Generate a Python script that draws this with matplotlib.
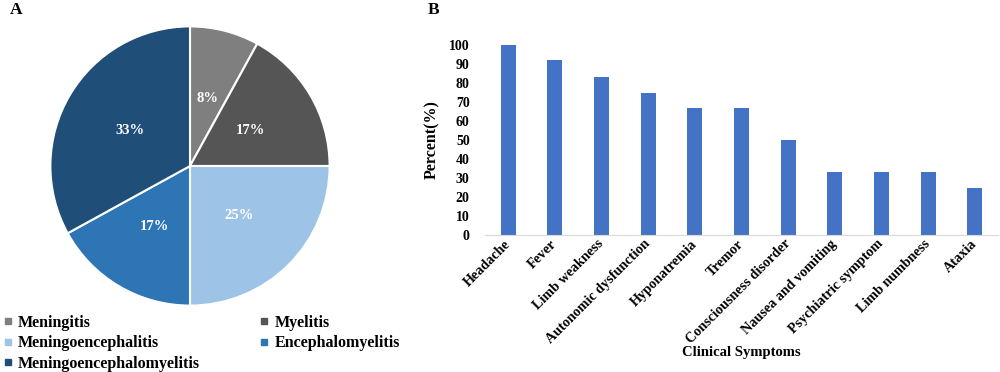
import matplotlib
matplotlib.use("Agg")
import matplotlib.pyplot as plt
from matplotlib.lines import Line2D

plt.rcParams.update({
    "font.family": "serif",
    "font.serif": ["Liberation Serif", "DejaVu Serif"],
    "font.weight": "bold",
})

# panel A: disease type distribution
TYPES = ["Meningitis", "Myelitis", "Meningoencephalitis",
         "Encephalomyelitis", "Meningoencephalomyelitis"]
TYPE_PCT = [8, 17, 25, 17, 33]
TYPE_COLORS = ["#7f7f7f", "#555555", "#9dc3e6", "#2e75b6", "#1f4e79"]

# panel B: clinical symptoms
SYMPTOMS = ["Headache", "Fever", "Limb weakness", "Autonomic dysfunction",
            "Hyponatremia", "Tremor", "Consciousness disorder",
            "Nausea and vomiting", "Psychiatric symptom", "Limb numbness",
            "Ataxia"]
SYMPTOM_PCT = [100, 92, 83, 75, 67, 67, 50, 33, 33, 33, 25]

W, H = 1000, 372
fig = plt.figure(figsize=(W / 100, H / 100), dpi=100)

# --- A: pie ---
axA = fig.add_axes([49 / W, (H - 307) / H, 282 / W, 282 / H])
wedges, _, autotexts = axA.pie(
    TYPE_PCT, colors=TYPE_COLORS, startangle=90, counterclock=False,
    autopct=lambda p: f"{p:.0f}%", pctdistance=0.5,
    wedgeprops=dict(edgecolor="white", linewidth=1.5),
    textprops=dict(color="white", fontsize=10.5, fontweight="bold"))
axA.set_xlim(-1.01, 1.01)
axA.set_ylim(-1.01, 1.01)
axA.set_aspect("equal")

handles = [Line2D([], [], marker="s", linestyle="none", markersize=5,
                  color=c) for c in TYPE_COLORS]
# column-major fill -> reorder so rows read Meningitis/Myelitis, ...
order = [0, 2, 4, 1, 3]
fig.legend([handles[i] for i in order], [TYPES[i] for i in order],
           loc="upper left", bbox_to_anchor=(3 / W, 1 - 315 / H),
           ncol=2, frameon=False, fontsize=11.5, handlelength=0.6,
           handletextpad=0.35, columnspacing=3.7, labelspacing=0.27,
           borderpad=0, borderaxespad=0)

fig.text(10 / W, 1 - 10 / H, "A", fontsize=12.5, fontweight="bold",
         va="center", ha="left")
fig.text(428 / W, 1 - 10 / H, "B", fontsize=12.5, fontweight="bold",
         va="center", ha="left")

# --- B: bars ---
axB = fig.add_axes([485 / W, (H - 235) / H, 513 / W, 190 / H])
x = range(len(SYMPTOMS))
axB.bar(x, SYMPTOM_PCT, width=0.32, color="#4472c4")
axB.set_xlim(-0.5, len(SYMPTOMS) - 0.5)
axB.set_ylim(0, 100)
axB.set_yticks(range(0, 101, 10))
axB.set_xticks(list(x))
axB.set_xticklabels(SYMPTOMS, rotation=45, ha="right", va="center",
                    rotation_mode="anchor", fontsize=10.2, fontweight="bold")
axB.tick_params(axis="both", length=0)
axB.tick_params(axis="y", labelsize=10, pad=11)
axB.tick_params(axis="x", pad=5)
for lab in axB.get_yticklabels():
    lab.set_fontweight("bold")
for s in ["top", "right", "left"]:
    axB.spines[s].set_visible(False)
axB.spines["bottom"].set_color("#d9d9d9")
axB.set_ylabel("Percent(%)", fontsize=11.5, fontweight="bold")
axB.yaxis.set_label_coords(-0.088, 0.5)
axB.set_xlabel("Clinical Symptoms", fontsize=10.5, fontweight="bold")
axB.xaxis.set_label_coords(0.5, -0.62)
axB.xaxis.label.set_va("center")

fig.savefig("out.png", dpi=100)
